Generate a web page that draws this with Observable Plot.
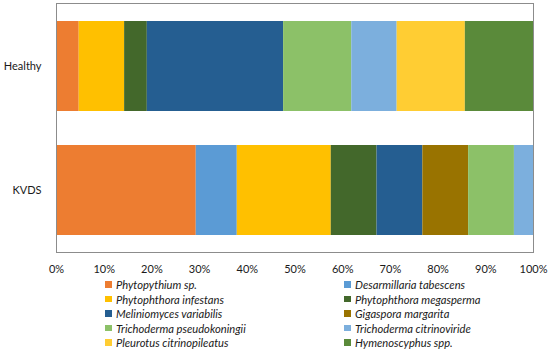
<!DOCTYPE html>
<html><head><meta charset="utf-8">
<script src="https://cdn.jsdelivr.net/npm/d3@7"></script>
<script src="https://cdn.jsdelivr.net/npm/@observablehq/plot@0.6"></script>
<style>
body{margin:0;background:#fff;font-family:Lato,sans-serif;}
#wrap{position:relative;width:550px;height:349px;overflow:hidden;}
#legend{position:absolute;left:105px;top:277.3px;display:grid;grid-template-columns:239px 200px;}
.item{display:flex;align-items:center;height:14.5px;font-style:italic;font-size:11.2px;color:#1a1a1a;white-space:nowrap;}
.sw{width:6.5px;height:6.5px;margin-right:4.5px;flex:none;}
</style></head>
<body><div id="wrap"><div id="chart"></div><div id="legend"></div></div>
<script>
const groups = ["Healthy", "KVDS"];
const species = [
  "Phytopythium sp.", "Desarmillaria tabescens",
  "Phytophthora infestans", "Phytophthora megasperma",
  "Meliniomyces variabilis", "Gigaspora margarita",
  "Trichoderma pseudokoningii", "Trichoderma citrinoviride",
  "Pleurotus citrinopileatus", "Hymenoscyphus spp."
];
const colors = ["#ED7D31", "#5B9BD5", "#FFC000", "#43682B", "#255E91",
                "#997300", "#8CC168", "#7CAFDD", "#FFCD33", "#5A8A3A"];
const healthy = [4.76, 0, 9.52, 4.76, 28.57, 0, 14.29, 9.52, 14.29, 14.29];
const kvds    = [29.3, 8.6, 19.7, 9.6, 9.6, 9.6, 9.6, 4.0, 0, 0];
const xTicks = [0, 10, 20, 30, 40, 50, 60, 70, 80, 90, 100];

const rows = [];
species.forEach((s, i) => {
  rows.push({group: "Healthy", species: s, value: healthy[i]});
  rows.push({group: "KVDS", species: s, value: kvds[i]});
});

const chart = Plot.plot({
  width: 550,
  height: 280,
  marginLeft: 56,
  marginRight: 17,
  marginTop: 3,
  marginBottom: 28,
  style: {fontFamily: "Lato, sans-serif", fontSize: "11px", color: "#1a1a1a", background: "#fff"},
  x: {domain: [0, 100], ticks: xTicks, tickFormat: d => d + "%", tickSize: 0, tickPadding: 12.5, label: null},
  y: {domain: groups, paddingInner: 0.275, paddingOuter: 0.135, tickSize: 0, tickPadding: 15, label: null},
  color: {domain: species, range: colors},
  marks: [
    Plot.barX(rows, Plot.stackX({x: "value", y: "group", fill: "species", order: species})),
    Plot.frame({stroke: "#8c8c8c", strokeWidth: 1})
  ]
});
document.getElementById("chart").appendChild(chart);

const legend = document.getElementById("legend");
species.forEach((s, i) => {
  const item = document.createElement("div");
  item.className = "item";
  const sw = document.createElement("span");
  sw.className = "sw";
  sw.style.background = colors[i];
  const t = document.createElement("span");
  t.textContent = s;
  item.appendChild(sw);
  item.appendChild(t);
  legend.appendChild(item);
});
</script></body></html>
